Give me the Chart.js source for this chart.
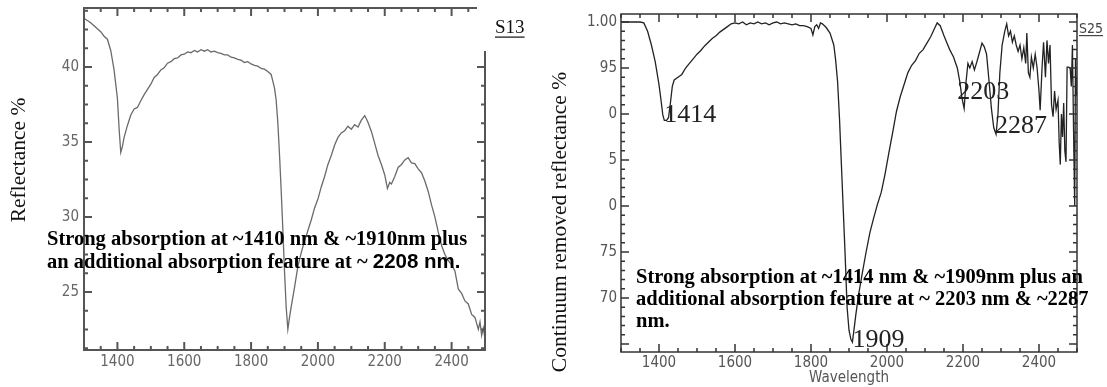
<!DOCTYPE html>
<html>
<head>
<meta charset="utf-8">
<script src="https://cdn.jsdelivr.net/npm/chart.js@4.4.1/dist/chart.umd.min.js"></script>
<style>
  body { margin: 0; background: #fff; }
  #wrap { position: relative; width: 1107px; height: 387px; overflow: hidden; background: #fff; }
  #s13 { position: absolute; left: 0; top: 0; }
  #s25 { position: absolute; left: 550px; top: 0; }
</style>
</head>
<body>
<div id="wrap">
  <canvas id="s13" width="550" height="387"></canvas>
  <canvas id="s25" width="557" height="387"></canvas>
</div>
<script>
// S13: reflectance spectrum (%)
const s13Wavelength = [1300,1310,1320,1330,1340,1350,1360,1370,1380,1390,1400,1405,1410,1415,1420,1430,1440,1450,1460,1470,
  1480,1490,1500,1510,1520,1530,1540,1550,1560,1570,1580,1590,1600,1610,1620,1630,1640,1650,1660,1670,
  1680,1690,1700,1710,1720,1730,1740,1750,1760,1770,1780,1790,1800,1810,1820,1830,1840,1850,1860,1870,
  1875,1880,1885,1890,1895,1900,1905,1910,1915,1920,1930,1940,1950,1960,1970,1980,1990,2000,2010,2020,
  2030,2040,2050,2060,2070,2080,2090,2100,2110,2120,2130,2140,2145,2150,2160,2170,2180,2190,2200,2208,
  2215,2220,2230,2240,2250,2260,2270,2280,2290,2300,2310,2320,2330,2340,2350,2360,2370,2380,2390,2400,
  2410,2420,2430,2440,2450,2460,2470,2480,2485,2490,2495,2500];
const s13Reflectance = [43.25,43.1,42.95,42.75,42.55,42.35,42.05,41.85,41.1,39.8,37.9,35.9,34.3,34.7,35.3,36.1,36.8,37.2,37.3,37.75,
  38.15,38.5,38.85,39.3,39.5,39.8,39.95,40.25,40.35,40.55,40.6,40.8,40.85,41.0,40.95,41.1,41.0,41.15,41.05,41.15,
  41.0,41.05,40.95,40.9,40.8,40.8,40.65,40.6,40.5,40.45,40.3,40.35,40.2,40.1,40.05,39.9,39.85,39.7,39.5,38.6,
  37.8,36.3,34.2,31.8,29.2,26.4,24.0,22.5,23.3,24.0,25.3,26.7,27.6,28.4,29.1,29.8,30.6,31.2,32.0,32.7,
  33.5,34.1,34.8,35.3,35.6,35.75,36.05,35.85,36.15,36.0,36.45,36.75,36.55,36.3,35.7,34.9,34.1,33.5,32.8,31.9,
  32.3,32.2,32.7,33.3,33.5,33.8,33.95,33.6,33.55,33.2,32.95,32.4,31.7,30.8,30.0,29.0,28.1,27.5,27.1,26.8,
  26.4,25.2,24.9,24.4,24.2,23.5,23.3,22.5,23.0,22.1,22.6,21.9];

// S25: continuum removed reflectance
const s25Wavelength = [1300,1310,1320,1330,1340,1350,1360,1370,1380,1390,1400,1405,1410,1414,1420,1425,1430,1435,1440,1450,
  1460,1470,1480,1490,1500,1510,1520,1530,1540,1550,1560,1570,1580,1590,1600,1610,1620,1630,1640,1650,
  1660,1670,1680,1690,1700,1710,1720,1730,1740,1750,1760,1770,1780,1790,1800,1805,1810,1815,1820,1825,
  1830,1840,1850,1860,1865,1870,1875,1880,1885,1890,1895,1900,1905,1909,1913,1918,1925,1935,1945,1955,
  1965,1975,1985,1995,2005,2015,2025,2035,2045,2055,2065,2075,2085,2095,2105,2115,2125,2132,2140,2150,
  2158,2165,2175,2185,2192,2197,2203,2208,2213,2218,2224,2230,2236,2242,2250,2256,2262,2268,2275,2281,
  2287,2292,2297,2303,2310,2315,2320,2325,2330,2335,2340,2345,2350,2355,2360,2365,2368,2372,2376,2380,
  2385,2390,2395,2400,2403,2408,2412,2417,2421,2425,2429,2433,2437,2441,2445,2450,2453,2456,2459,2462,
  2465,2468,2471,2474,2478,2482,2485,2488,2491,2494,2496,2498,2500];
const s25Continuum = [1.000,1.000,1.000,1.000,1.000,1.000,0.999,0.990,0.975,0.957,0.932,0.916,0.899,0.893,0.893,0.896,0.912,0.930,0.937,0.940,
  0.943,0.950,0.955,0.960,0.965,0.969,0.974,0.978,0.982,0.985,0.989,0.992,0.995,0.998,0.999,0.998,1.000,0.997,0.999,0.998,
  1.000,0.998,0.999,0.997,0.999,1.000,0.998,0.999,0.998,0.997,0.998,0.996,0.996,0.995,0.993,0.986,0.995,0.997,0.993,0.999,
  0.998,0.994,0.988,0.975,0.958,0.935,0.895,0.845,0.795,0.745,0.690,0.665,0.655,0.652,0.665,0.682,0.703,0.727,0.750,0.771,
  0.787,0.802,0.815,0.835,0.858,0.880,0.903,0.919,0.932,0.945,0.953,0.958,0.966,0.970,0.977,0.984,0.993,0.999,0.996,0.985,
  0.977,0.970,0.962,0.950,0.934,0.918,0.906,0.935,0.955,0.950,0.957,0.948,0.956,0.965,0.977,0.973,0.965,0.938,0.905,0.885,
  0.878,0.900,0.945,0.975,0.990,0.998,0.985,0.990,0.978,0.985,0.975,0.968,0.975,0.960,0.972,0.955,0.988,0.945,0.940,0.962,
  0.950,0.965,0.950,0.925,0.904,0.950,0.978,0.940,0.980,0.955,0.975,0.910,0.897,0.925,0.905,0.915,0.870,0.845,0.900,0.875,
  0.912,0.860,0.848,0.951,0.951,0.950,0.930,0.975,0.880,0.800,0.960,0.920,0.940];

const xTickValues = [1400, 1600, 1800, 2000, 2200, 2400];
const s13TickValues = [25, 30, 35, 40];
const s25TickValues = [0.70, 0.75, 0.80, 0.85, 0.90, 0.95, 1.00];
const s25TickLabels = ['70', '75', '0', '5', '0', '95', '1.00'];
const s25Peaks = [1414, 1909, 2203, 2287];

const tickFont = "'DejaVu Sans Condensed', 'DejaVu Sans', sans-serif";
const serif = "'Liberation Serif', 'Times New Roman', serif";
const sans = "'Liberation Sans', Arial, sans-serif";
const noteFont = 'bold 20.5px ' + serif;

// minor tick every `step`, a long one every `every` minor steps
function eachTick(scale, step, every, fn) {
  const k0 = Math.ceil(scale.min / step - 1e-6);
  const k1 = Math.floor(scale.max / step + 1e-6);
  for (let k = k0; k <= k1; k++) fn(k * step, k % every === 0 ? 8 : 4);
}

function drawRuns(ctx, t) {
  ctx.save();
  ctx.translate(t.x, t.y);
  if (t.rotate) ctx.rotate(t.rotate);
  ctx.fillStyle = t.color || '#000';
  ctx.textBaseline = t.baseline || 'alphabetic';
  ctx.textAlign = 'left';
  let total = 0;
  t.runs.forEach(([s, f]) => { ctx.font = f; total += ctx.measureText(s).width; });
  let cx = t.align === 'center' ? -total / 2 : 0;
  t.runs.forEach(([s, f]) => { ctx.font = f; ctx.fillText(s, cx, 0); cx += ctx.measureText(s).width; });
  if (t.underline) ctx.fillRect(0, t.underline, total, 1.2);
  ctx.restore();
}

// box frame with inward ticks on all four sides, plus the free text
const panelDecor = {
  id: 'panelDecor',
  afterDatasetsDraw(chart, args, o) {
    const {ctx, chartArea: a} = chart;
    const x = chart.scales.x, y = chart.scales.y;
    ctx.save();
    ctx.strokeStyle = o.color;
    ctx.lineWidth = o.lineWidth;
    ctx.strokeRect(a.left, a.top, a.right - a.left, a.bottom - a.top);
    ctx.beginPath();
    eachTick(x, o.xStep, o.xEvery, (v, len) => {
      const px = x.getPixelForValue(v);
      ctx.moveTo(px, a.bottom); ctx.lineTo(px, a.bottom - len);
      ctx.moveTo(px, a.top); ctx.lineTo(px, a.top + len);
    });
    eachTick(y, o.yStep, o.yEvery, (v, len) => {
      const py = y.getPixelForValue(v);
      ctx.moveTo(a.left, py); ctx.lineTo(a.left + len, py);
      ctx.moveTo(a.right, py); ctx.lineTo(a.right - len, py);
    });
    ctx.stroke();

    if (o.box) {
      ctx.fillStyle = '#fff';
      ctx.fillRect(...o.box);
    }
    (o.texts || []).forEach(t => drawRuns(ctx, t));

    (o.peaks || []).forEach(p => {
      const ds = chart.data.datasets[0].data;
      const pt = ds.find(d => d.x === p.value);
      drawRuns(ctx, {
        x: x.getPixelForValue(pt.x) + p.dx,
        y: y.getPixelForValue(pt.y) + p.dy,
        runs: [[String(p.value), '26px ' + serif]],
        color: '#222'
      });
    });
    ctx.restore();
  }
};

function fixBox(w, h) {
  return s => {
    if (w !== null) s.width = w;
    if (h !== null) s.height = h;
    s.paddingTop = s.paddingBottom = s.paddingLeft = s.paddingRight = 0;
  };
}

const plainLabel = value => String(value);

new Chart(document.getElementById('s13'), {
  type: 'line',
  data: {
    datasets: [{
      data: s13Wavelength.map((w, i) => ({x: w, y: s13Reflectance[i]})),
      borderColor: '#6a6a6a',
      borderWidth: 1.3,
      pointRadius: 0,
      tension: 0
    }]
  },
  options: {
    responsive: false,
    animation: false,
    layout: {padding: {left: 0, top: 8, right: 65, bottom: 0}},
    plugins: {
      legend: {display: false},
      tooltip: {enabled: false},
      panelDecor: {
        color: '#555', lineWidth: 2,
        xStep: 50, xEvery: 4, yStep: 1.25, yEvery: 4,
        box: [477, 0, 73, 51],
        texts: [
          {x: 19, y: 160, rotate: -Math.PI / 2, align: 'center', baseline: 'middle',
            runs: [['Reflectance %', '21.5px ' + serif]], color: '#111'},
          {x: 47, y: 245, runs: [['Strong absorption at ~1410 nm & ~1910nm plus', noteFont]]},
          {x: 47, y: 268, runs: [['an additional absorption feature at ~ ', noteFont], ['2208 nm.', 'bold 20.5px ' + sans]]},
          {x: 495, y: 33, runs: [['S13', '19px ' + serif]], underline: 3.5, color: '#111'}
        ]
      }
    },
    scales: {
      x: {
        type: 'linear', min: 1300, max: 2500,
        grid: {display: false, drawTicks: false}, border: {display: false},
        afterBuildTicks: s => { s.ticks = xTickValues.map(v => ({value: v})); },
        afterFit: fixBox(null, 37),
        ticks: {autoSkip: false, maxRotation: 0, padding: 3, color: '#666', font: {family: tickFont, size: 15},
          callback: plainLabel}
      },
      y: {
        min: 21.13, max: 43.93,
        grid: {display: false, drawTicks: false}, border: {display: false},
        afterBuildTicks: s => { s.ticks = s13TickValues.map(v => ({value: v})); },
        afterFit: fixBox(84, null),
        ticks: {autoSkip: false, padding: 5, color: '#666', font: {family: tickFont, size: 15},
          callback: plainLabel}
      }
    }
  },
  plugins: [panelDecor]
});

new Chart(document.getElementById('s25'), {
  type: 'line',
  data: {
    datasets: [{
      data: s25Wavelength.map((w, i) => ({x: w, y: s25Continuum[i]})),
      borderColor: '#222',
      borderWidth: 1.3,
      pointRadius: 0,
      tension: 0
    }]
  },
  options: {
    responsive: false,
    animation: false,
    layout: {padding: {left: 0, top: 14, right: 30, bottom: 0}},
    plugins: {
      legend: {display: false},
      tooltip: {enabled: false},
      panelDecor: {
        color: '#333', lineWidth: 1.5,
        xStep: 50, xEvery: 4, yStep: 0.01, yEvery: 5,
        texts: [
          {x: 10, y: 222, rotate: -Math.PI / 2, align: 'center', baseline: 'middle',
            runs: [['Continuum removed reflectance %', '21.5px ' + serif]], color: '#111'},
          {x: 86, y: 283, runs: [['Strong absorption at ~1414 nm & ~1909nm plus an', noteFont]]},
          {x: 86, y: 305, runs: [['additional absorption feature at ~ 2203 nm & ~2287', noteFont]]},
          {x: 86, y: 327, runs: [['nm.', noteFont]]},
          {x: 529, y: 33, runs: [['S25', '14px ' + tickFont]], underline: 2, color: '#444'}
        ],
        peaks: [
          {value: s25Peaks[0], dx: 0, dy: 2},
          {value: s25Peaks[1], dx: 0, dy: 5},
          {value: s25Peaks[2], dx: -7, dy: -9},
          {value: s25Peaks[3], dx: -1, dy: -1}
        ]
      }
    },
    scales: {
      x: {
        type: 'linear', min: 1300, max: 2500,
        grid: {display: false, drawTicks: false}, border: {display: false},
        afterBuildTicks: s => { s.ticks = xTickValues.map(v => ({value: v})); },
        afterFit: fixBox(null, 35),
        ticks: {autoSkip: false, maxRotation: 0, padding: 2, color: '#555', font: {family: tickFont, size: 15},
          callback: plainLabel},
        title: {display: true, text: 'Wavelength', color: '#555', padding: 0, font: {family: tickFont, size: 15}}
      },
      y: {
        min: 0.6413, max: 1.0087,
        grid: {display: false, drawTicks: false}, border: {display: false},
        afterBuildTicks: s => { s.ticks = s25TickValues.map(v => ({value: v})); },
        afterFit: fixBox(71, null),
        ticks: {
          autoSkip: false, padding: 4, color: '#555', font: {family: tickFont, size: 15},
          callback: (value, index) => s25TickLabels[index]
        }
      }
    }
  },
  plugins: [panelDecor]
});
</script>
</body>
</html>
